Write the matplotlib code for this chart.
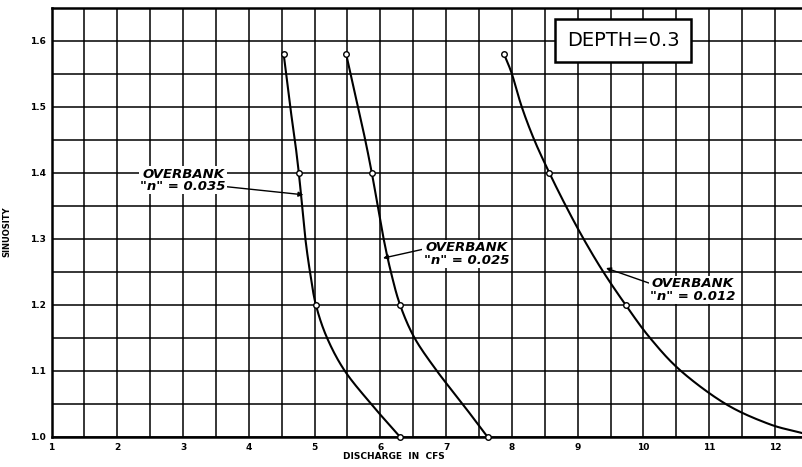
import numpy as np
import matplotlib
matplotlib.use('Agg')
import matplotlib.pyplot as plt

# valores (descarga en cfs, sinuosidad)
q_035 = [4.53, 4.63, 4.70, 4.76, 4.81, 4.86, 4.93, 5.02, 5.19, 5.46, 5.86, 6.30]
s_035 = [1.58, 1.50, 1.45, 1.40, 1.35, 1.30, 1.25, 1.20, 1.15, 1.10, 1.05, 1.00]
q_025 = [5.48, 5.66, 5.77, 5.87, 5.96, 6.05, 6.16, 6.30, 6.52, 6.86, 7.25, 7.63]
s_025 = [1.58, 1.50, 1.45, 1.40, 1.35, 1.30, 1.25, 1.20, 1.15, 1.10, 1.05, 1.00]
q_012 = [7.88, 8.00, 8.15, 8.34, 8.57, 8.82, 9.09, 9.39, 9.73, 10.10,
         10.57, 11.25, 11.90, 12.41]
s_012 = [1.58, 1.55, 1.50, 1.45, 1.40, 1.35, 1.30, 1.25, 1.20, 1.15,
         1.10, 1.05, 1.02, 1.006]

# puntos marcados con circulos
mq_035 = [4.53, 4.76, 5.02, 6.30]
ms_035 = [1.58, 1.40, 1.20, 1.00]
mq_025 = [5.48, 5.87, 6.30, 7.63]
ms_025 = [1.58, 1.40, 1.20, 1.00]
mq_012 = [7.88, 8.57, 9.73]
ms_012 = [1.58, 1.40, 1.20]

x_ticks = list(range(1, 13))
y_ticks = [1.0, 1.1, 1.2, 1.3, 1.4, 1.5, 1.6]


def suavizar(x, y, n=20):
    # spline Catmull-Rom solo para dibujar la curva sin quiebres
    p = np.column_stack([x, y]).astype(float)
    p = np.vstack([2 * p[0] - p[1], p, 2 * p[-1] - p[-2]])
    t = np.linspace(0, 1, n, endpoint=False)[:, None]
    out = []
    for i in range(1, len(p) - 2):
        p0, p1, p2, p3 = p[i - 1], p[i], p[i + 1], p[i + 2]
        out.append(0.5 * ((2 * p1) + (-p0 + p2) * t
                          + (2 * p0 - 5 * p1 + 4 * p2 - p3) * t ** 2
                          + (-p0 + 3 * p1 - 3 * p2 + p3) * t ** 3))
    out.append(p[-2][None, :])
    out = np.vstack(out)
    return out[:, 0], out[:, 1]


fig = plt.figure(figsize=(8.02, 4.67), dpi=100)
ax = fig.add_axes([51.5 / 802, 30 / 467, 750.5 / 802, 429 / 467])
ax.set_xlim(1, 12.41)
ax.set_ylim(1.0, 1.65)

# cuadricula
ax.set_xticks(x_ticks)
ax.set_xticklabels([str(t) for t in x_ticks])
ax.set_xticks(np.arange(1.5, 12.5, 1.0), minor=True)
ax.set_yticks(y_ticks)
ax.set_yticklabels([f'{t:.1f}' for t in y_ticks])
ax.set_yticks(np.arange(1.05, 1.65, 0.1), minor=True)
ax.grid(True, which='both', color='black', linewidth=1.1)
ax.set_axisbelow(True)
ax.tick_params(which='both', length=0, labelsize=6.5, pad=4)
for lab in ax.get_xticklabels() + ax.get_yticklabels():
    lab.set_fontweight('bold')
ax.spines['right'].set_visible(False)
for s in ['left', 'top', 'bottom']:
    ax.spines[s].set_linewidth(1.8)

# curvas
for q, s in [(q_035, s_035), (q_025, s_025), (q_012, s_012)]:
    xs, ys = suavizar(q, s)
    ax.plot(xs, ys, color='black', linewidth=1.5, zorder=3)
for q, s in [(mq_035, ms_035), (mq_025, ms_025), (mq_012, ms_012)]:
    ax.plot(q, s, linestyle='none', marker='o', markersize=4,
            markerfacecolor='white', markeredgecolor='black',
            markeredgewidth=1.0, clip_on=False, zorder=4)

# etiquetas
box = dict(boxstyle='square,pad=0.1', facecolor='white', edgecolor='none')
arrow = dict(arrowstyle='-|>', color='black', linewidth=1.0, mutation_scale=7,
             shrinkA=0, shrinkB=0)
kw = dict(ha='center', va='center', fontsize=9.5, fontweight='bold',
          fontstyle='italic', linespacing=0.95, bbox=box, zorder=5)
ax.annotate('OVERBANK\n"n" = 0.035', xy=(4.83, 1.367), xytext=(3.0, 1.389),
            arrowprops=dict(arrow, relpos=(1.0, 0.25)), **kw)
ax.annotate('OVERBANK\n"n" = 0.025', xy=(6.04, 1.271), xytext=(7.31, 1.277),
            arrowprops=dict(arrow, relpos=(0.0, 0.7)), **kw)
ax.annotate('OVERBANK\n"n" = 0.012', xy=(9.43, 1.256), xytext=(10.75, 1.223),
            arrowprops=dict(arrow, relpos=(0.0, 0.75)), **kw)

ax.text(9.69, 1.601, 'DEPTH=0.3', ha='center', va='center', fontsize=14,
        bbox=dict(boxstyle='square,pad=0.6', facecolor='white',
                  edgecolor='black', linewidth=1.8), zorder=5)

ax.set_xlabel('DISCHARGE  IN  CFS', fontsize=6.5, fontweight='bold')
ax.xaxis.set_label_coords((394 - 51.5) / 750.5, -0.035)
ax.set_ylabel('SINUOSITY', fontsize=6, fontweight='bold')
ax.yaxis.set_label_coords(-0.053, 0.478)

fig.savefig('out.png', dpi=100)
